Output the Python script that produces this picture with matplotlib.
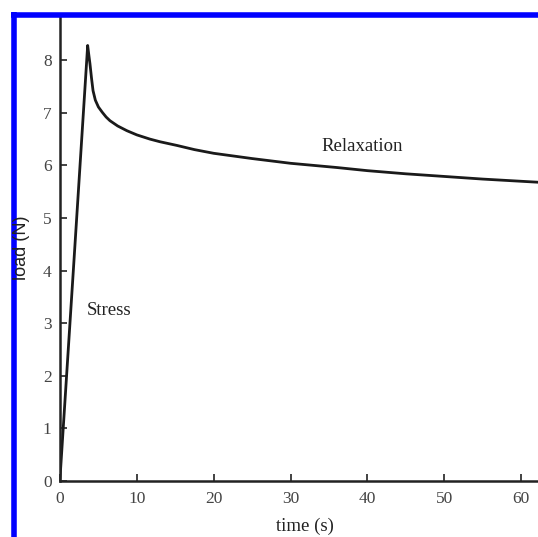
import matplotlib
matplotlib.use("Agg")
from matplotlib import pyplot as plt
from matplotlib.lines import Line2D

# load curve: stress ramp then relaxation
time_s = [0, 1.8, 3.6, 3.75, 3.9, 4.1, 4.3, 4.6, 5.0, 5.5, 6.0, 6.5, 7.5, 8.7, 10.0,
          11.7, 13.0, 15.2, 17.5, 20, 25, 30, 36, 40, 45, 50, 55, 62.2]
load_n = [0.05, 4.15, 8.28, 8.10, 7.93, 7.66, 7.42, 7.24, 7.11, 7.01, 6.92, 6.85, 6.75, 6.66, 6.58,
          6.50, 6.45, 6.38, 6.30, 6.23, 6.13, 6.04, 5.96, 5.90, 5.84, 5.79, 5.74, 5.68]

x_ticks = [0, 10, 20, 30, 40, 50, 60]
y_ticks = [0, 1, 2, 3, 4, 5, 6, 7, 8]

serif = ["Liberation Serif", "DejaVu Serif"]
sans = ["Liberation Sans", "DejaVu Sans"]

W, H = 538, 537
fig = plt.figure(figsize=(W / 100, H / 100), dpi=100)
ax = fig.add_axes([60 / W, (H - 481) / H, 1 - 60 / W, (481 - 17) / H])

ax.plot(time_s, load_n, color="#1a1a1a", linewidth=2.0, solid_joinstyle="round")

ax.set_xlim(0, 62.2)
ax.set_ylim(0, (481 - 17) / 52.6)
ax.set_xticks(x_ticks)
ax.set_yticks(y_ticks)
ax.tick_params(direction="in", length=5, width=1.2, color="#222222",
               labelsize=12.5, labelcolor="#444444")
ax.tick_params(axis="y", pad=6)
ax.tick_params(axis="x", pad=7)
for lab in ax.get_xticklabels() + ax.get_yticklabels():
    lab.set_family(serif)

ax.spines["top"].set_visible(False)
ax.spines["right"].set_visible(False)
for s in ("left", "bottom"):
    ax.spines[s].set_linewidth(1.8)
    ax.spines[s].set_color("#222222")

ax.text(3.5, 3.25, "Stress", family=serif, fontsize=13.5, color="#222222",
        ha="left", va="center")
ax.text(34.0, 6.35, "Relaxation", family=serif, fontsize=13.5, color="#222222",
        ha="left", va="center")

fig.text(22 / W, 1 - 248 / H, "load (N)", family=sans, fontsize=13, color="#222222",
         rotation=90, ha="center", va="center")
fig.text(305 / W, 2 / H, "time (s)", family=serif, fontsize=13.5, color="#222222",
         ha="center", va="bottom")

# blue frame on left and top
fig.add_artist(Line2D([13.5 / W, 13.5 / W], [0, 1 - 12 / H], transform=fig.transFigure,
                      color="#0000ff", linewidth=4, solid_capstyle="butt"))
fig.add_artist(Line2D([11 / W, 1], [1 - 14.5 / H, 1 - 14.5 / H], transform=fig.transFigure,
                      color="#0000ff", linewidth=4, solid_capstyle="butt"))

fig.savefig("out.png", dpi=100)
